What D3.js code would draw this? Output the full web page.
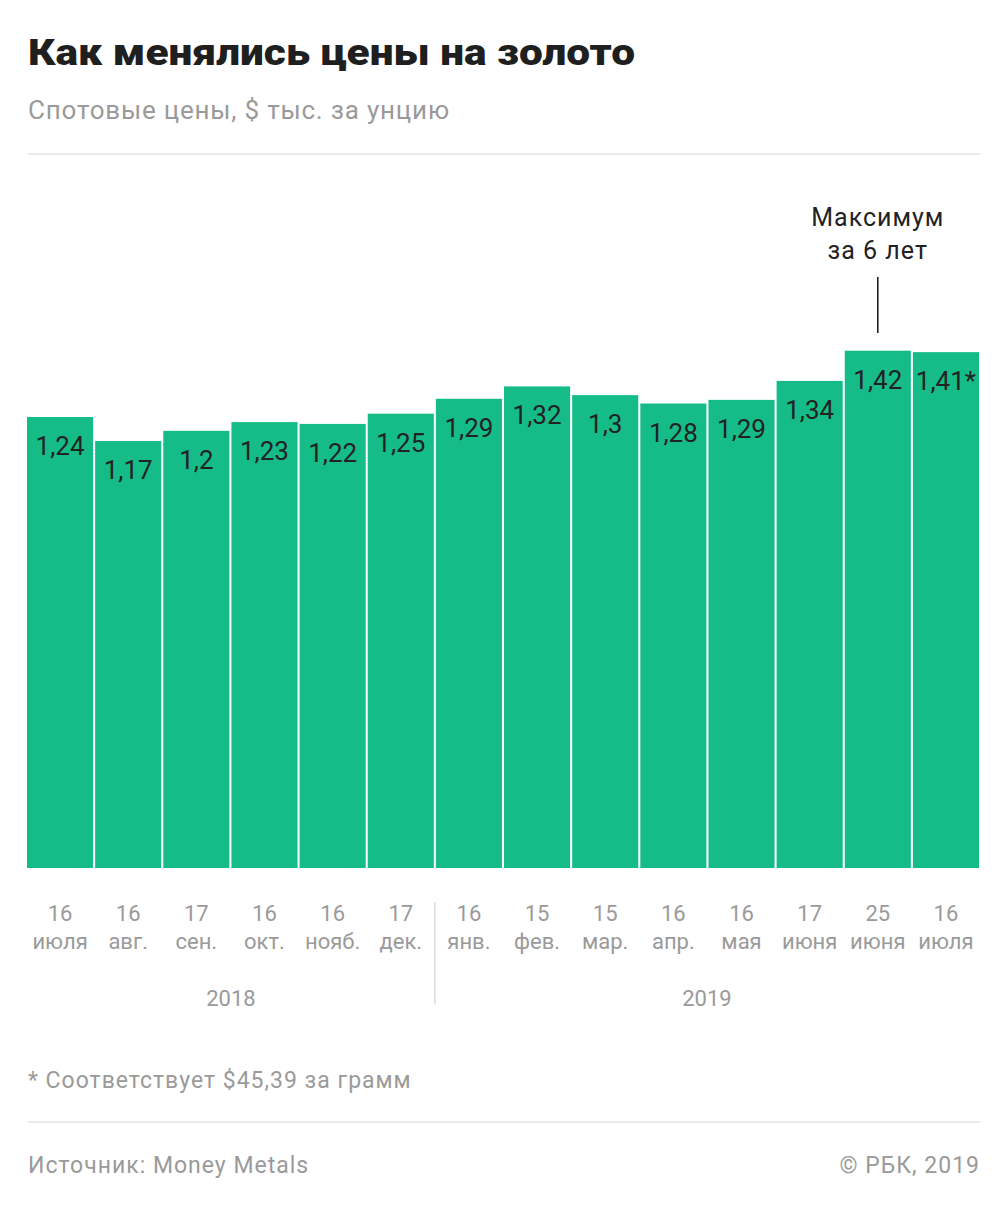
<!DOCTYPE html>
<meta charset="utf-8">
<style>
body { margin: 0; background: #fff; }
text { font-family: Roboto, "Noto Sans", sans-serif; }
.title { font-weight: 900; font-size: 37px; fill: #1f1f1f; }
.subtitle { font-size: 26px; fill: #9a9a9a; letter-spacing: 0.8px; }
.rule { stroke: #e9e9e9; stroke-width: 2; }
.bar rect { fill: #15bc88; }
.bar text { font-size: 26px; fill: #222; text-anchor: middle; }
.tick-day, .tick-month, .year { font-size: 22px; fill: #9a9a9a; text-anchor: middle; }
.divider { stroke: #dcdcdc; stroke-width: 1.5; }
.note { font-size: 25px; fill: #222; text-anchor: middle; letter-spacing: 1px; }
.foot { font-size: 23px; fill: #9a9a9a; letter-spacing: 1px; }
</style>
<body>
<div id="chart"></div>
<script src="https://cdn.jsdelivr.net/npm/d3@7"></script>
<script>

// data
var days   = ["16", "16", "17", "16", "16", "17", "16", "15", "15", "16", "16", "17", "25", "16"];
var months = ["июля", "авг.", "сен.", "окт.", "нояб.", "дек.", "янв.", "фев.", "мар.", "апр.", "мая", "июня", "июня", "июля"];
var prices = [1.238, 1.172, 1.200, 1.224, 1.219, 1.247, 1.288, 1.322, 1.298, 1.275, 1.285, 1.337, 1.420, 1.416];
var priceLabels = ["1,24", "1,17", "1,2", "1,23", "1,22", "1,25", "1,29", "1,32", "1,3", "1,28", "1,29", "1,34", "1,42", "1,41*"];
var years = ["2018", "2019"];
var yearSplit = 6;   // first bar of 2019
var peakIndex = 12;

var W = 1005, H = 1209;
var left = 27, right = 979, base = 868;

var svg = d3.select("#chart").append("svg")
    .attr("width", W)
    .attr("height", H);

// header
svg.append("text").attr("class", "title")
    .attr("x", 28).attr("y", 65)
    .attr("textLength", 607)
    .attr("lengthAdjust", "spacingAndGlyphs")
    .text("Как менялись цены на золото");
svg.append("text").attr("class", "subtitle")
    .attr("x", 28).attr("y", 119)
    .text("Спотовые цены, $ тыс. за унцию");
svg.append("line").attr("class", "rule")
    .attr("x1", 28).attr("x2", 980).attr("y1", 154).attr("y2", 154);

// scales
var x = d3.scaleBand()
    .domain(d3.range(prices.length))
    .range([left, right])
    .paddingInner(0.03)
    .paddingOuter(0);
var y = d3.scaleLinear()
    .domain([0, 1.5])
    .range([base, base - 1.5 * 364.3]);

// bars
var bar = svg.selectAll(".bar")
    .data(prices)
    .enter().append("g")
    .attr("class", "bar")
    .attr("transform", function(d, i) { return "translate(" + x(i) + ",0)"; });

bar.append("rect")
    .attr("y", function(d) { return y(d); })
    .attr("width", x.bandwidth())
    .attr("height", function(d) { return y(0) - y(d); });

bar.append("text")
    .attr("x", x.bandwidth() / 2)
    .attr("y", function(d) { return y(d) + 38; })
    .text(function(d, i) { return priceLabels[i]; });

// x axis labels
var cx = function(i) { return x(i) + x.bandwidth() / 2; };
svg.selectAll(".tick-day")
    .data(days)
    .enter().append("text")
    .attr("class", "tick-day")
    .attr("x", function(d, i) { return cx(i); })
    .attr("y", 921)
    .text(function(d) { return d; });
svg.selectAll(".tick-month")
    .data(months)
    .enter().append("text")
    .attr("class", "tick-month")
    .attr("x", function(d, i) { return cx(i); })
    .attr("y", 949)
    .text(function(d) { return d; });

// years + divider
var splitX = x(yearSplit) - x.step() * x.paddingInner() / 2;
svg.append("line").attr("class", "divider")
    .attr("x1", splitX).attr("x2", splitX)
    .attr("y1", 902).attr("y2", 1004);
svg.append("text").attr("class", "year")
    .attr("x", (left + splitX) / 2).attr("y", 1006)
    .text(years[0]);
svg.append("text").attr("class", "year")
    .attr("x", (splitX + right) / 2).attr("y", 1006)
    .text(years[1]);

// annotation over the peak
var px = cx(peakIndex);
svg.append("text").attr("class", "note")
    .attr("x", px).attr("y", 226)
    .text("Максимум");
svg.append("text").attr("class", "note")
    .attr("x", px).attr("y", 259)
    .text("за 6 лет");
svg.append("line")
    .attr("x1", px).attr("x2", px)
    .attr("y1", 277).attr("y2", 333)
    .style("stroke", "#111").style("stroke-width", 1.5);

// footer
svg.append("text").attr("class", "foot")
    .attr("x", 28).attr("y", 1088)
    .text("* Соответствует $45,39 за грамм");
svg.append("line").attr("class", "rule")
    .attr("x1", 28).attr("x2", 980).attr("y1", 1122).attr("y2", 1122);
svg.append("text").attr("class", "foot")
    .attr("x", 28).attr("y", 1173)
    .text("Источник: Money Metals");
svg.append("text").attr("class", "foot")
    .attr("x", 980).attr("y", 1173)
    .style("text-anchor", "end")
    .text("© РБК, 2019");

</script>
</body>
